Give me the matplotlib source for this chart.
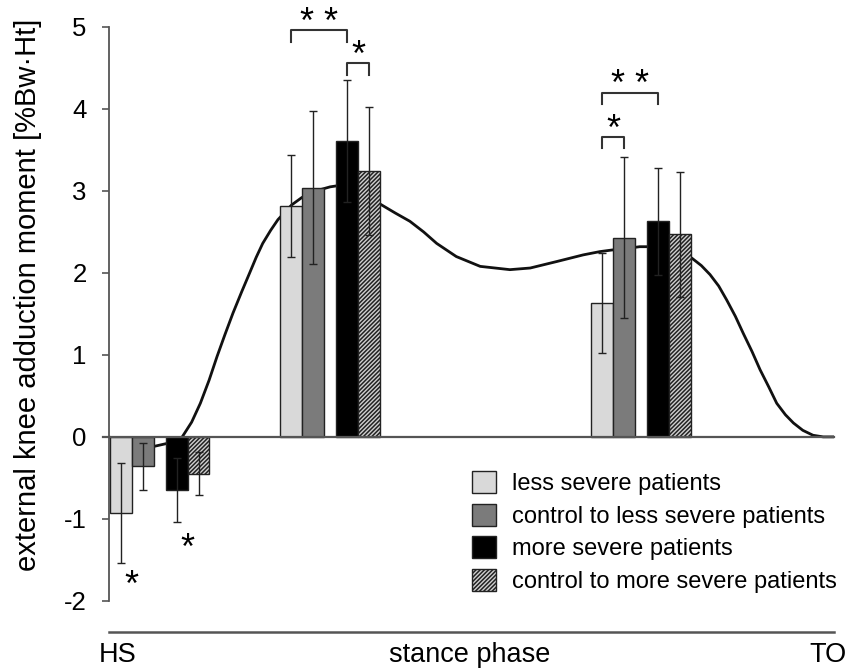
import matplotlib
matplotlib.use("Agg")
import matplotlib.pyplot as plt
import numpy as np
from matplotlib.patches import Patch

plt.rcParams['font.family'] = ['Liberation Sans', 'DejaVu Sans']
plt.rcParams['hatch.linewidth'] = 1.1
plt.rcParams['axes.unicode_minus'] = False

# ---------------- data ----------------
series = ["less severe patients", "control to less severe patients",
          "more severe patients", "control to more severe patients"]
# group centres in % of stance phase
group_pos = [7.0, 30.5, 73.4]
mean_lsp = [-0.93, 2.82, 1.63]
mean_ctl = [-0.36, 3.04, 2.43]
mean_msp = [-0.65, 3.61, 2.63]
mean_ctm = [-0.45, 3.24, 2.47]
sd_lsp = [0.61, 0.62, 0.61]
sd_ctl = [0.29, 0.93, 0.98]
sd_msp = [0.39, 0.74, 0.65]
sd_ctm = [0.26, 0.78, 0.76]

# mean curve over stance phase
curve_pct = [0, 2, 4, 6, 8, 10.1, 11.4, 12.6, 13.8, 14.9, 16.0, 17.1, 18.3, 19.4,
             20.3, 21.2, 22.3, 23.3, 25.2, 26.6, 28.5, 30.5, 32.0, 33.5, 35.5, 37.4,
             39.5, 41.5, 43.4, 45.2, 47.9, 51.2, 55.3, 58.1, 61.8, 65.4, 67.7, 69.4,
             71.5, 73.2, 75.0, 77.0, 78.8, 80.4, 81.7, 82.9, 84.1, 85.2, 86.4, 87.5,
             88.7, 89.8, 91.0, 92.1, 93.3, 94.4, 95.7, 97.1, 98.5, 100]
curve_val = [0.0, -0.08, -0.12, -0.12, -0.08, 0.0, 0.18, 0.41, 0.69, 0.98, 1.25, 1.51, 1.77, 2.0,
             2.19, 2.36, 2.52, 2.65, 2.83, 2.92, 3.0, 3.05, 3.07, 3.04, 2.96, 2.84,
             2.73, 2.63, 2.50, 2.36, 2.20, 2.08, 2.04, 2.06, 2.14, 2.22, 2.26, 2.28,
             2.30, 2.32, 2.32, 2.29, 2.24, 2.18, 2.09, 1.98, 1.84, 1.67, 1.47, 1.26,
             1.04, 0.82, 0.61, 0.41, 0.27, 0.17, 0.08, 0.02, 0.0, 0.0]

# significance brackets: (group, bar_a, bar_b, height, label)
brackets = [(1, 0, 2, 4.96, "* *"), (1, 2, 3, 4.56, "*"),
            (2, 0, 2, 4.20, "* *"), (2, 0, 1, 3.66, "*")]
# single stars under group 1: (bar index boundary, y)
single_stars = [(0, -1.72), (2, -1.26)]

# ---------------- styling ----------------
bar_w = 3.0
offsets = [-5.35, -2.35, 2.35, 5.35]
faces = ["#d9d9d9", "#7b7b7b", "#000000", "#d0d0d0"]
hatches = [None, None, None, "////////"]

fig = plt.figure(figsize=(8.55, 6.7), dpi=100)
ymin, ymax = -2.38, 5.05
ax = fig.add_axes([109/855, (670-632)/670, 725/855, (632-22.9)/670])
ax.set_xlim(0, 100)
ax.set_ylim(ymin, ymax)

ax.plot(curve_pct, curve_val, color="#111111", lw=2.0, zorder=1,
        solid_joinstyle="round", solid_capstyle="round")

means = [mean_lsp, mean_ctl, mean_msp, mean_ctm]
sds = [sd_lsp, sd_ctl, sd_msp, sd_ctm]
gp = np.array(group_pos)
for k in range(4):
    xs = gp + offsets[k]
    ax.bar(xs, means[k], width=bar_w, color=faces[k], edgecolor="#222222",
           linewidth=1.0, hatch=hatches[k], zorder=2, label=series[k])
    ax.errorbar(xs, means[k], yerr=sds[k], fmt="none", ecolor="#222222",
                elinewidth=1.0, capsize=3, capthick=1.0, zorder=3)

ax.axhline(0, xmin=-0.008, xmax=1.0, color="#555555", lw=1.6, zorder=2.5, clip_on=False)

star_fs = 26
for g, a, b, h, lab in brackets:
    xa = group_pos[g] + offsets[a]
    xb = group_pos[g] + offsets[b]
    ax.plot([xa, xa, xb, xb], [h - 0.14, h, h, h - 0.14], color="#333333", lw=1.5, zorder=3)
    ax.text((xa + xb) / 2, h - 0.13, lab, ha="center", va="bottom", fontsize=star_fs)

for i, y in single_stars:
    x = group_pos[0] + offsets[i] + bar_w / 2
    ax.text(x, y - 0.11, "*", ha="center", va="center", fontsize=star_fs)

# axes styling
for s in ["top", "right"]:
    ax.spines[s].set_visible(False)
ax.spines["left"].set_bounds(-2, 5)
ax.spines["left"].set_color("#555555")
ax.spines["left"].set_linewidth(1.3)
ax.spines["bottom"].set_color("#555555")
ax.spines["bottom"].set_linewidth(1.8)
ax.set_yticks(range(-2, 6))
ax.tick_params(axis="y", labelsize=18.5, length=5, width=1.2, color="#555555", pad=11)
ax.set_xticks([1.2, 49.8, 99.2])
ax.set_xticklabels(["HS", "stance phase", "TO"])
ax.tick_params(axis="x", labelsize=19.5, length=0, pad=7)
ax.set_ylabel("external knee adduction moment [%Bw·Ht]", fontsize=21, labelpad=10)
ax.yaxis.set_label_coords(-0.092, (632 - 295) / (632 - 22.9))

handles = [Patch(facecolor=faces[k], edgecolor="#222222", hatch=hatches[k], label=series[k])
           for k in range(4)]
ax.legend(handles=handles, loc="upper left", bbox_to_anchor=(472/855, (670-471)/670),
          bbox_transform=fig.transFigure, frameon=False, fontsize=17, borderpad=0,
          borderaxespad=0, handlelength=1.0, handleheight=1.05, handletextpad=0.68,
          labelspacing=0.37)

fig.savefig("out.png", dpi=100)
